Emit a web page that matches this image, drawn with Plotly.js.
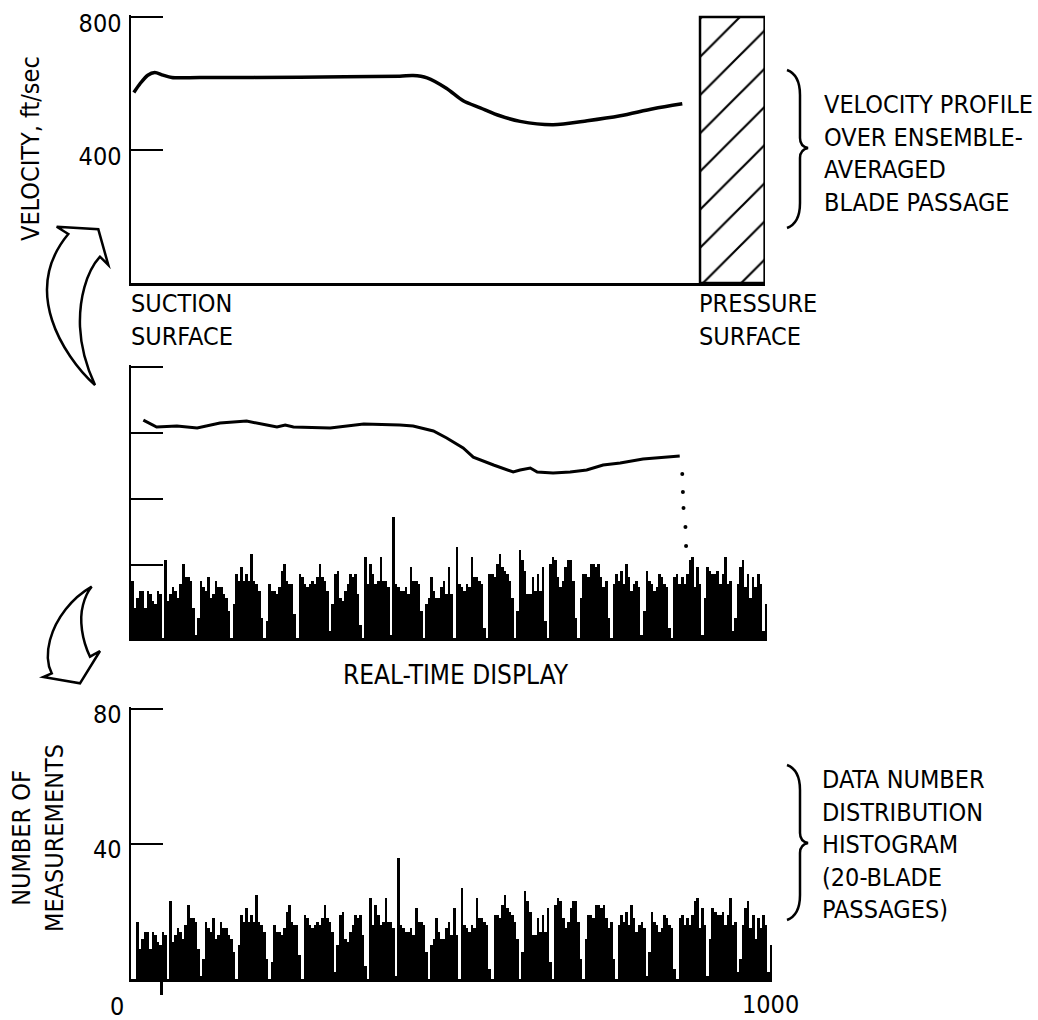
<!DOCTYPE html>
<html>
<head>
<meta charset="utf-8">
<script src="https://cdn.plot.ly/plotly-3.0.1.min.js"></script>
<style>html,body{margin:0;padding:0;background:#fff;}#chart{width:1038px;height:1020px;}</style>
</head>
<body>
<div id="chart"></div>
<script>
// ---- data ----
// top panel: ensemble-averaged velocity profile (x: position across passage, 0..1000)
const profileX = [4, 14, 26, 37, 50, 64, 108, 266, 424, 445, 467, 498, 524, 551, 582, 614, 666, 720, 772, 824, 870];
const profileV = [573, 600, 625, 633, 625, 618, 618, 619, 622, 624, 617, 585, 548, 527, 503, 486, 476, 488, 503, 524, 539];
// blade (pressure surface) extent
const bladeX = [898, 1000];
const bladeTop = 800;
// middle panel: real-time velocity trace
const realX = [19, 40, 72, 104, 140, 182, 214, 230, 243, 256, 314, 367, 424, 445, 477, 498, 524, 540, 572, 603, 614, 630, 641, 666, 693, 719, 745, 772, 808, 840, 866];
const realV = [639, 618, 621, 615, 630, 636, 624, 618, 624, 618, 615, 627, 624, 621, 606, 585, 555, 527, 503, 482, 488, 494, 482, 479, 482, 488, 503, 509, 521, 527, 530];
const dotX = [870, 871, 872, 875, 876];
const dotV = [476, 421, 373, 315, 258];
// histogram: number of measurements per bin (bin width 4, 20 blade passages)
const binWidth = 4;
const counts = [
 17,9,12,14,14,9,14,13,11,10,14,13, 0,
 23,11,13,15,14,12,16,22,18,18,17,9, 1,6,
 17,15,14,18,12,13,17,15,15,13,12,8, 0,10,
 19,17,21,17,19,17,25,17,16,14,6, 0,5,
 16,14,14,13,15,20,22,17,16,16,7, 0,
 19,18,16,15,16,17,16,18,22,18,17,14,2, 10,19,20,
 12,11,14,16,19,18,19,13,4, 0,
 24,16,22,19,16,17,24,17,17,15,1, 36,16,
 15,14,14,15,13,21,17,17,16,8, 0,
 10,12,18,14,12,12,15,17,13,21,13, 0,
 27,16,15,14,16,15,24,18,18,17,16,3, 0,
 19,19,18,22,25,21,20,19,17,12, 0,8,
 26,23,20,13,13,18,14,19,14,21,5, 0,
 22,24,23,18,15,17,21,23,23,17,6, 0,
 12,19,19,18,22,22,21,22,18,15,17,6, 0,
 16,19,17,20,16,22,18,14,16,17,15, 1,8,
 20,17,16,14,15,19,18,16,15,3, 0,
 18,19,16,18,16,19,23,24,15,21,16, 1,
 12,21,20,19,19,20,16,19,24,16,17, 2,6,
 16,21,23,15,19,12,18,15,19,16, 2, 10
];
const velTicks = [400, 800];
const rtTicks = [200, 400, 600, 800];
const countTicks = [40, 80];
const xLabels = ['0', '1000'];

// ---- layout helpers ----
const W = 1038, H = 1020;
const FONT = 'DejaVu Sans Condensed, Liberation Sans Narrow, sans-serif';
const fx = px => px / W;
const fy = py => 1 - py / H;
const P = (x, y) => fx(x).toFixed(5) + ',' + fy(y).toFixed(5);
const LW = 2.5;

const traces = [
  { type: 'bar', x: [(bladeX[0] + bladeX[1]) / 2], y: [bladeTop], width: [bladeX[1] - bladeX[0]],
    xaxis: 'x', yaxis: 'y', hoverinfo: 'skip',
    marker: { color: 'white', line: { color: 'black', width: LW },
      pattern: { shape: '/', fgcolor: 'black', bgcolor: 'white', size: 27, solidity: 0.08 } } },
  { type: 'scatter', mode: 'lines', x: profileX, y: profileV, xaxis: 'x', yaxis: 'y',
    line: { color: 'black', width: 3.5, shape: 'spline', smoothing: 0.8 } },
  { type: 'bar', x0: binWidth / 2, dx: binWidth, y: counts, width: binWidth, xaxis: 'x2', yaxis: 'y4',
    marker: { color: 'black', line: { width: 0 } } },
  { type: 'scatter', mode: 'lines', x: realX, y: realV, xaxis: 'x2', yaxis: 'y2',
    line: { color: 'black', width: 3 } },
  { type: 'scatter', mode: 'markers', x: dotX, y: dotV, xaxis: 'x2', yaxis: 'y2',
    marker: { color: 'black', size: 4 } },
  { type: 'bar', x0: binWidth / 2, dx: binWidth, y: counts, width: binWidth, xaxis: 'x3', yaxis: 'y3',
    marker: { color: 'black', line: { width: 0 } } }
];

const axBase = { showgrid: false, zeroline: false, showline: true, linecolor: 'black', linewidth: LW,
  tickcolor: 'black', tickwidth: LW, fixedrange: true,
  tickfont: { family: FONT, size: 25, color: 'black' } };

const layout = {
  width: W, height: H, margin: { l: 0, r: 0, t: 0, b: 0 },
  paper_bgcolor: 'white', plot_bgcolor: 'rgba(0,0,0,0)', showlegend: false, bargap: 0,
  font: { family: FONT, size: 25, color: 'black' },
  xaxis: Object.assign({}, axBase, { domain: [fx(131), fx(765)], range: [-0.5, 1000.6], anchor: 'y', ticks: '', showticklabels: false }),
  yaxis: Object.assign({}, axBase, { domain: [fy(283), fy(15)], range: [0, 806], anchor: 'x',
    tickmode: 'array', tickvals: velTicks, ticks: 'inside', ticklen: 32, ticklabelshift: 6, ticklabelstandoff: 2 }),
  xaxis2: Object.assign({}, axBase, { domain: [fx(131), fx(767)], range: [-0.5, 1003.8], anchor: 'y2', ticks: '', showticklabels: false }),
  yaxis2: Object.assign({}, axBase, { domain: [fy(638), fy(365)], range: [-21, 806], anchor: 'x2',
    tickmode: 'array', tickvals: rtTicks, ticks: 'inside', ticklen: 32, showticklabels: false }),
  yaxis4: { overlaying: 'y2', anchor: 'x2', range: [0, 80.9], visible: false, fixedrange: true },
  xaxis3: Object.assign({}, axBase, { domain: [fx(131), fx(772)], range: [-8.4, 1003.6], anchor: 'y3',
    tickmode: 'array', tickvals: [40], ticktext: [''], ticks: 'outside', ticklen: 13 }),
  yaxis3: Object.assign({}, axBase, { domain: [fy(979), fy(707)], range: [0, 80.6], anchor: 'x3',
    tickmode: 'array', tickvals: countTicks, ticks: 'inside', ticklen: 32, ticklabelshift: 5, ticklabelstandoff: 2 }),
  annotations: [],
  shapes: []
};

function ann(text, x, y, opts) {
  layout.annotations.push(Object.assign({ text: text, xref: 'paper', yref: 'paper', x: fx(x), y: fy(y),
    showarrow: false, xanchor: 'left', yanchor: 'middle', align: 'left',
    font: { family: FONT, size: 25, color: 'black' } }, opts || {}));
}
ann('SUCTION<br>SURFACE', 129, 320);
ann('PRESSURE<br>SURFACE', 697, 320);
ann('VELOCITY PROFILE<br>OVER ENSEMBLE-<br>AVERAGED<br>BLADE PASSAGE', 822, 153);
ann('REAL-TIME DISPLAY', 456, 675, { xanchor: 'center', align: 'center', font: { family: FONT, size: 26, color: 'black' } });
ann('DATA NUMBER<br>DISTRIBUTION<br>HISTOGRAM<br>(20-BLADE<br>PASSAGES)', 820, 844);
ann('VELOCITY, ft/sec', 30, 149, { xanchor: 'center', align: 'center', textangle: -90 });
ann('NUMBER OF<br>MEASUREMENTS', 38, 838, { xanchor: 'center', align: 'center', textangle: -90 });
ann(xLabels[0], 117, 1006, { xanchor: 'center', align: 'center' });
ann(xLabels[1], 770, 1004, { xanchor: 'center', align: 'center' });

function pathShape(d, fill) {
  layout.shapes.push({ type: 'path', xref: 'paper', yref: 'paper', path: d,
    line: { color: 'black', width: LW }, fillcolor: fill || 'rgba(0,0,0,0)', layer: 'above' });
}
// braces
function brace(top, mid, bot) {
  return 'M' + P(787, top) + ' C' + P(795, top + 3) + ' ' + P(800, top + 10) + ' ' + P(800, top + 25) +
    ' L' + P(800, mid - 10) + ' C' + P(800, mid - 4) + ' ' + P(803, mid - 1) + ' ' + P(808, mid) +
    ' C' + P(803, mid + 1) + ' ' + P(800, mid + 4) + ' ' + P(800, mid + 10) +
    ' L' + P(800, bot - 25) + ' C' + P(800, bot - 10) + ' ' + P(795, bot - 3) + ' ' + P(787, bot);
}
pathShape(brace(70, 148, 228));
pathShape(brace(765, 843, 920));
// upper curved arrow (pointing up)
pathShape('M' + P(56.7, 226.7) + ' L' + P(98.3, 229.3) + ' L' + P(108.3, 265) + ' L' + P(100, 256.7) +
  ' C' + P(86, 272) + ' ' + P(79, 300) + ' ' + P(80, 326.7) +
  ' C' + P(81, 350) + ' ' + P(88, 370) + ' ' + P(95, 385) +
  ' C' + P(78, 370) + ' ' + P(60, 345) + ' ' + P(52, 320) +
  ' C' + P(43, 292) + ' ' + P(45, 262) + ' ' + P(68.3, 234) + ' Z', 'white');
// lower curved arrow (pointing down)
pathShape('M' + P(91.7, 586.7) + ' C' + P(72, 598) + ' ' + P(56, 618) + ' ' + P(50, 640) +
  ' C' + P(46, 655) + ' ' + P(48, 666) + ' ' + P(51.7, 673.3) +
  ' L' + P(43.3, 677) + ' L' + P(80, 683.3) + ' L' + P(100, 651) + ' L' + P(90, 656.7) +
  ' C' + P(82, 640) + ' ' + P(79, 620) + ' ' + P(83, 605) +
  ' C' + P(85, 597) + ' ' + P(88, 591) + ' ' + P(91.7, 586.7) + ' Z', 'white');

Plotly.newPlot('chart', traces, layout, { staticPlot: true, displayModeBar: false });
</script>
</body>
</html>
